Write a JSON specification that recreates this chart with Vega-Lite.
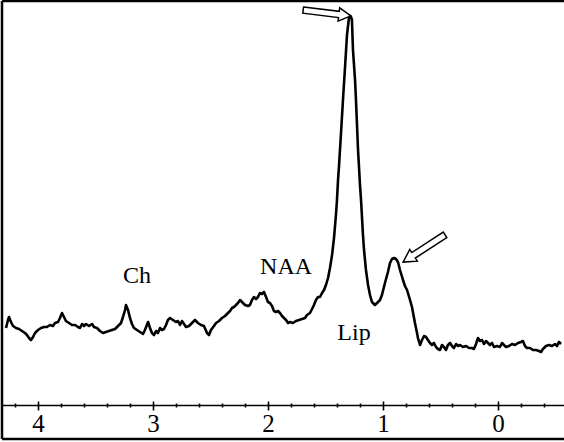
{
  "$schema": "https://vega.github.io/schema/vega-lite/v6.json",
  "width": 562,
  "height": 438,
  "autosize": "none",
  "padding": {"left": 2, "top": 1, "right": 0, "bottom": 3},
  "background": "white",
  "config": {"view": {"stroke": null}},
  "datasets": {
    "spectrum": [
      {"ppm":4.278,"signal":77},{"ppm":4.261,"signal":85},{"ppm":4.252,"signal":88},{"ppm":4.235,"signal":83},{"ppm":4.217,"signal":79},{"ppm":4.191,"signal":77},{"ppm":4.165,"signal":76},{"ppm":4.139,"signal":74},{"ppm":4.113,"signal":72},{"ppm":4.096,"signal":70},{"ppm":4.078,"signal":67},{"ppm":4.061,"signal":65},{"ppm":4.043,"signal":68},{"ppm":4.026,"signal":72},{"ppm":4.0,"signal":75},{"ppm":3.974,"signal":77},{"ppm":3.948,"signal":78},{"ppm":3.922,"signal":78},{"ppm":3.896,"signal":80},{"ppm":3.87,"signal":79},{"ppm":3.852,"signal":82},{"ppm":3.826,"signal":83},{"ppm":3.809,"signal":87},{"ppm":3.791,"signal":92},{"ppm":3.774,"signal":88},{"ppm":3.757,"signal":84},{"ppm":3.73,"signal":82},{"ppm":3.704,"signal":80},{"ppm":3.678,"signal":80},{"ppm":3.652,"signal":78},{"ppm":3.635,"signal":77},{"ppm":3.617,"signal":81},{"ppm":3.6,"signal":79},{"ppm":3.583,"signal":81},{"ppm":3.557,"signal":79},{"ppm":3.53,"signal":81},{"ppm":3.513,"signal":78},{"ppm":3.487,"signal":77},{"ppm":3.461,"signal":74},{"ppm":3.435,"signal":72},{"ppm":3.409,"signal":73},{"ppm":3.383,"signal":74},{"ppm":3.357,"signal":75},{"ppm":3.33,"signal":76},{"ppm":3.304,"signal":79},{"ppm":3.278,"signal":82},{"ppm":3.261,"signal":88},{"ppm":3.243,"signal":95},{"ppm":3.235,"signal":100},{"ppm":3.217,"signal":95},{"ppm":3.2,"signal":87},{"ppm":3.183,"signal":81},{"ppm":3.165,"signal":77},{"ppm":3.139,"signal":75},{"ppm":3.113,"signal":73},{"ppm":3.087,"signal":71},{"ppm":3.07,"signal":75},{"ppm":3.043,"signal":83},{"ppm":3.026,"signal":77},{"ppm":3.009,"signal":72},{"ppm":2.991,"signal":70},{"ppm":2.974,"signal":74},{"ppm":2.957,"signal":72},{"ppm":2.939,"signal":77},{"ppm":2.922,"signal":75},{"ppm":2.904,"signal":76},{"ppm":2.887,"signal":80},{"ppm":2.87,"signal":85},{"ppm":2.852,"signal":87},{"ppm":2.826,"signal":85},{"ppm":2.8,"signal":83},{"ppm":2.783,"signal":84},{"ppm":2.765,"signal":80},{"ppm":2.748,"signal":84},{"ppm":2.73,"signal":81},{"ppm":2.713,"signal":78},{"ppm":2.687,"signal":79},{"ppm":2.661,"signal":82},{"ppm":2.635,"signal":85},{"ppm":2.609,"signal":82},{"ppm":2.583,"signal":80},{"ppm":2.557,"signal":79},{"ppm":2.53,"signal":72},{"ppm":2.513,"signal":70},{"ppm":2.496,"signal":75},{"ppm":2.47,"signal":79},{"ppm":2.452,"signal":82},{"ppm":2.426,"signal":84},{"ppm":2.4,"signal":87},{"ppm":2.374,"signal":89},{"ppm":2.348,"signal":92},{"ppm":2.33,"signal":94},{"ppm":2.313,"signal":97},{"ppm":2.296,"signal":98},{"ppm":2.278,"signal":100},{"ppm":2.261,"signal":102},{"ppm":2.243,"signal":105},{"ppm":2.226,"signal":103},{"ppm":2.2,"signal":100},{"ppm":2.174,"signal":99},{"ppm":2.157,"signal":100},{"ppm":2.139,"signal":105},{"ppm":2.122,"signal":108},{"ppm":2.104,"signal":106},{"ppm":2.087,"signal":108},{"ppm":2.07,"signal":112},{"ppm":2.052,"signal":111},{"ppm":2.035,"signal":113},{"ppm":2.017,"signal":108},{"ppm":2.0,"signal":103},{"ppm":1.983,"signal":102},{"ppm":1.965,"signal":99},{"ppm":1.948,"signal":94},{"ppm":1.93,"signal":93},{"ppm":1.913,"signal":94},{"ppm":1.896,"signal":92},{"ppm":1.878,"signal":89},{"ppm":1.861,"signal":87},{"ppm":1.843,"signal":85},{"ppm":1.826,"signal":82},{"ppm":1.809,"signal":83},{"ppm":1.783,"signal":82},{"ppm":1.757,"signal":84},{"ppm":1.73,"signal":85},{"ppm":1.704,"signal":86},{"ppm":1.678,"signal":87},{"ppm":1.661,"signal":90},{"ppm":1.635,"signal":92},{"ppm":1.617,"signal":96},{"ppm":1.6,"signal":100},{"ppm":1.583,"signal":105},{"ppm":1.565,"signal":108},{"ppm":1.548,"signal":108},{"ppm":1.53,"signal":112},{"ppm":1.513,"signal":115},{"ppm":1.496,"signal":120},{"ppm":1.478,"signal":127},{"ppm":1.461,"signal":137},{"ppm":1.443,"signal":150},{"ppm":1.426,"signal":167},{"ppm":1.409,"signal":190},{"ppm":1.4,"signal":205},{"ppm":1.391,"signal":225},{"ppm":1.383,"signal":238},{"ppm":1.365,"signal":272},{"ppm":1.348,"signal":305},{"ppm":1.33,"signal":338},{"ppm":1.313,"signal":370},{"ppm":1.296,"signal":387},{"ppm":1.287,"signal":389},{"ppm":1.278,"signal":388},{"ppm":1.27,"signal":385},{"ppm":1.261,"signal":355},{"ppm":1.243,"signal":325},{"ppm":1.235,"signal":305},{"ppm":1.217,"signal":255},{"ppm":1.2,"signal":220},{"ppm":1.191,"signal":205},{"ppm":1.174,"signal":170},{"ppm":1.165,"signal":155},{"ppm":1.148,"signal":135},{"ppm":1.13,"signal":120},{"ppm":1.113,"signal":110},{"ppm":1.096,"signal":103},{"ppm":1.07,"signal":100},{"ppm":1.043,"signal":103},{"ppm":1.026,"signal":105},{"ppm":1.009,"signal":110},{"ppm":0.983,"signal":122},{"ppm":0.957,"signal":133},{"ppm":0.939,"signal":142},{"ppm":0.922,"signal":146},{"ppm":0.904,"signal":147},{"ppm":0.887,"signal":146},{"ppm":0.87,"signal":143},{"ppm":0.852,"signal":135},{"ppm":0.826,"signal":125},{"ppm":0.809,"signal":119},{"ppm":0.791,"signal":115},{"ppm":0.765,"signal":105},{"ppm":0.748,"signal":98},{"ppm":0.73,"signal":87},{"ppm":0.722,"signal":82},{"ppm":0.704,"signal":72},{"ppm":0.696,"signal":67},{"ppm":0.678,"signal":60},{"ppm":0.661,"signal":65},{"ppm":0.643,"signal":69},{"ppm":0.626,"signal":68},{"ppm":0.609,"signal":65},{"ppm":0.591,"signal":62},{"ppm":0.574,"signal":60},{"ppm":0.557,"signal":62},{"ppm":0.539,"signal":58},{"ppm":0.522,"signal":56},{"ppm":0.504,"signal":55},{"ppm":0.487,"signal":60},{"ppm":0.47,"signal":58},{"ppm":0.452,"signal":55},{"ppm":0.435,"signal":60},{"ppm":0.417,"signal":62},{"ppm":0.4,"signal":59},{"ppm":0.383,"signal":57},{"ppm":0.365,"signal":61},{"ppm":0.348,"signal":59},{"ppm":0.33,"signal":60},{"ppm":0.304,"signal":58},{"ppm":0.278,"signal":59},{"ppm":0.252,"signal":57},{"ppm":0.226,"signal":57},{"ppm":0.209,"signal":56},{"ppm":0.191,"signal":61},{"ppm":0.174,"signal":67},{"ppm":0.157,"signal":64},{"ppm":0.139,"signal":65},{"ppm":0.122,"signal":61},{"ppm":0.104,"signal":64},{"ppm":0.087,"signal":62},{"ppm":0.07,"signal":60},{"ppm":0.052,"signal":62},{"ppm":0.035,"signal":58},{"ppm":0.009,"signal":59},{"ppm":-0.017,"signal":58},{"ppm":-0.035,"signal":62},{"ppm":-0.052,"signal":60},{"ppm":-0.07,"signal":58},{"ppm":-0.096,"signal":59},{"ppm":-0.122,"signal":61},{"ppm":-0.148,"signal":60},{"ppm":-0.174,"signal":62},{"ppm":-0.2,"signal":63},{"ppm":-0.217,"signal":64},{"ppm":-0.235,"signal":59},{"ppm":-0.252,"signal":57},{"ppm":-0.278,"signal":57},{"ppm":-0.304,"signal":55},{"ppm":-0.33,"signal":55},{"ppm":-0.357,"signal":54},{"ppm":-0.374,"signal":53},{"ppm":-0.391,"signal":56},{"ppm":-0.417,"signal":59},{"ppm":-0.443,"signal":60},{"ppm":-0.47,"signal":59},{"ppm":-0.496,"signal":61},{"ppm":-0.513,"signal":59},{"ppm":-0.53,"signal":63},{"ppm":-0.548,"signal":61}
    ],
    "labels": [
      {"ppm": 3.139, "signal": 122, "label": "Ch"},
      {"ppm": 1.843, "signal": 131, "label": "NAA"},
      {"ppm": 1.252, "signal": 65, "label": "Lip"}
    ],
    "frame": [
      {"x": 4.313, "x2": 4.313, "y": -34, "y2": 404},
      {"x": 4.313, "x2": -0.574, "y": 404, "y2": 404},
      {"x": 4.313, "x2": -0.574, "y": -34, "y2": -34}
    ]
  },
  "layer": [
    {
      "data": {"name": "frame"},
      "mark": {"type": "rule", "color": "black", "strokeWidth": 2.5},
      "encoding": {
        "x": {"field": "x", "type": "quantitative", "scale": {"domain": [4.313, -0.574], "nice": false, "zero": false}, "axis": null},
        "x2": {"field": "x2"},
        "y": {"field": "y", "type": "quantitative", "scale": {"domain": [-34, 404], "nice": false, "zero": false}, "axis": null},
        "y2": {"field": "y2"}
      }
    },
    {
      "data": {"name": "spectrum"},
      "mark": {"type": "line", "color": "black", "strokeWidth": 2.6, "strokeJoin": "round"},
      "encoding": {
        "x": {"field": "ppm", "type": "quantitative", "scale": {"domain": [4.313, -0.574], "nice": false, "zero": false},
          "axis": {"orient": "bottom", "offset": -38, "values": [4, 3, 2, 1, 0], "domain": false, "grid": false, "tickSize": 9, "tickWidth": 1.6, "tickColor": "black", "labelFont": "Liberation Serif", "labelFontSize": 25, "labelColor": "black", "labelPadding": 1, "title": null}},
        "y": {"field": "signal", "type": "quantitative", "scale": {"domain": [-34, 404], "nice": false, "zero": false}, "axis": null}
      }
    },
    {
      "data": {"name": "labels"},
      "mark": {"type": "text", "font": "Liberation Serif", "fontSize": 24, "color": "black", "align": "center", "baseline": "alphabetic"},
      "encoding": {
        "x": {"field": "ppm", "type": "quantitative", "scale": {"domain": [4.313, -0.574], "nice": false, "zero": false},
          "axis": {"orient": "bottom", "offset": -36, "values": [4.2, 3.8, 3.6, 3.4, 3.2, 2.8, 2.6, 2.4, 2.2, 1.8, 1.6, 1.4, 1.2, 0.8, 0.6, 0.4, 0.2, -0.2, -0.4], "domain": false, "grid": false, "labels": false, "tickSize": 4, "tickWidth": 1.6, "tickColor": "black", "title": null}},
        "y": {"field": "signal", "type": "quantitative", "scale": {"domain": [-34, 404], "nice": false, "zero": false}, "axis": null},
        "text": {"field": "label"}
      }
    },
    {
      "data": {"values": [{"ppm": 1.487, "signal": 392}]},
      "mark": {"type": "point", "shape": "M-1,-0.13 L0.5,-0.13 L0.5,-0.28 L1,0 L0.5,0.28 L0.5,0.13 L-1,0.13 Z", "size": 2304, "angle": 7, "filled": true, "fill": "white", "stroke": "black", "strokeWidth": 1.5, "opacity": 1},
      "encoding": {
        "x": {"field": "ppm", "type": "quantitative", "scale": {"domain": [4.313, -0.574], "nice": false, "zero": false},
          "axis": {"orient": "bottom", "offset": -34, "domain": true, "domainColor": "black", "domainWidth": 1.6, "ticks": false, "labels": false, "grid": false, "title": null}},
        "y": {"field": "signal", "type": "quantitative", "scale": {"domain": [-34, 404], "nice": false, "zero": false}, "axis": null}
      }
    },
    {
      "data": {"values": [{"ppm": 0.643, "signal": 156.5}]},
      "mark": {"type": "point", "shape": "M-1,-0.13 L0.5,-0.13 L0.5,-0.28 L1,0 L0.5,0.28 L0.5,0.13 L-1,0.13 Z", "size": 2500, "angle": 147, "filled": true, "fill": "white", "stroke": "black", "strokeWidth": 1.5, "opacity": 1},
      "encoding": {
        "x": {"field": "ppm", "type": "quantitative", "scale": {"domain": [4.313, -0.574], "nice": false, "zero": false}, "axis": null},
        "y": {"field": "signal", "type": "quantitative", "scale": {"domain": [-34, 404], "nice": false, "zero": false}, "axis": null}
      }
    }
  ],
  "resolve": {"axis": {"x": "independent"}}
}
